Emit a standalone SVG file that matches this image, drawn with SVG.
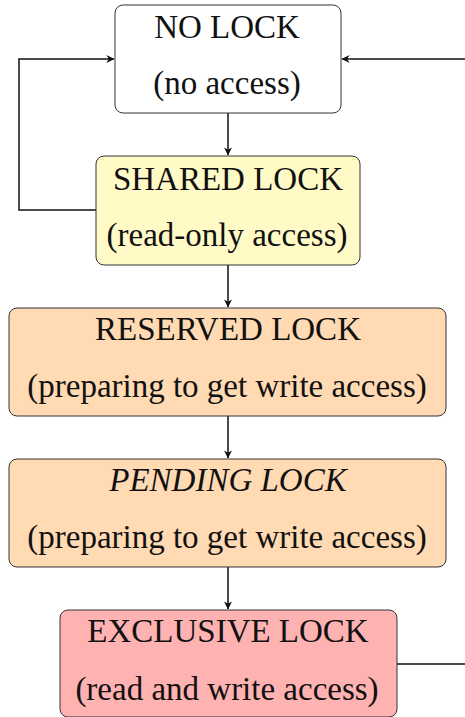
<svg xmlns="http://www.w3.org/2000/svg" width="465" height="717" viewBox="0 0 465 717">
<style>
  .box { stroke: #333333; stroke-width: 1; }
  .edge { fill: none; stroke: #111111; stroke-width: 1.5; }
</style>
<defs>
  <marker id="arr" viewBox="0 0 10 10" refX="9.5" refY="5" markerWidth="8" markerHeight="8" markerUnits="userSpaceOnUse" orient="auto">
    <path d="M0,0 L10,5 L0,10 L3,5 Z" fill="#111111"/>
  </marker>
</defs>
<rect width="465" height="717" fill="#ffffff"/>
<g id="connectors">
  <path class="edge" d="M228,113 V155" marker-end="url(#arr)"/>
  <path class="edge" d="M96,210 H19 V59 H114" marker-end="url(#arr)"/>
  <path class="edge" d="M228,265 V307" marker-end="url(#arr)"/>
  <path class="edge" d="M228,416 V458" marker-end="url(#arr)"/>
  <path class="edge" d="M228,567 V609" marker-end="url(#arr)"/>
  <path class="edge" d="M397,664 H465"/>
  <path class="edge" d="M465,59 H342" marker-end="url(#arr)"/>
</g>
<g font-size="33" fill="#111111" text-anchor="middle">
<g id="no-lock">
  <rect class="box" x="115" y="5" width="226" height="108" rx="8" fill="#ffffff"/>
  <text font-family="Times New Roman" x="227" y="38">NO LOCK</text>
  <text font-family="Times New Roman" x="227" y="94">(no access)</text>
</g>
<g id="shared-lock">
  <rect class="box" x="96" y="156" width="264" height="109" rx="8" fill="#fffac6"/>
  <text font-family="Times New Roman" x="228" y="190">SHARED LOCK</text>
  <text font-family="Times New Roman" x="227" y="246">(read-only access)</text>
</g>
<g id="reserved-lock">
  <rect class="box" x="9" y="308" width="437" height="108" rx="8" fill="#ffdab2"/>
  <text font-family="Times New Roman" x="228" y="340">RESERVED LOCK</text>
  <text font-family="Times New Roman" x="227" y="397">(preparing to get write access)</text>
</g>
<g id="pending-lock">
  <rect class="box" x="9" y="459" width="437" height="108" rx="8" fill="#ffdab2"/>
  <text font-family="Times New Roman" font-style="italic" x="228" y="491">PENDING LOCK</text>
  <text font-family="Times New Roman" x="227" y="548">(preparing to get write access)</text>
</g>
<g id="exclusive-lock">
  <rect class="box" x="60" y="610" width="337" height="107" rx="8" fill="#ffb2b2"/>
  <text font-family="Times New Roman" x="228" y="642">EXCLUSIVE LOCK</text>
  <text font-family="Times New Roman" x="227" y="700">(read and write access)</text>
</g>
</g>
</svg>
